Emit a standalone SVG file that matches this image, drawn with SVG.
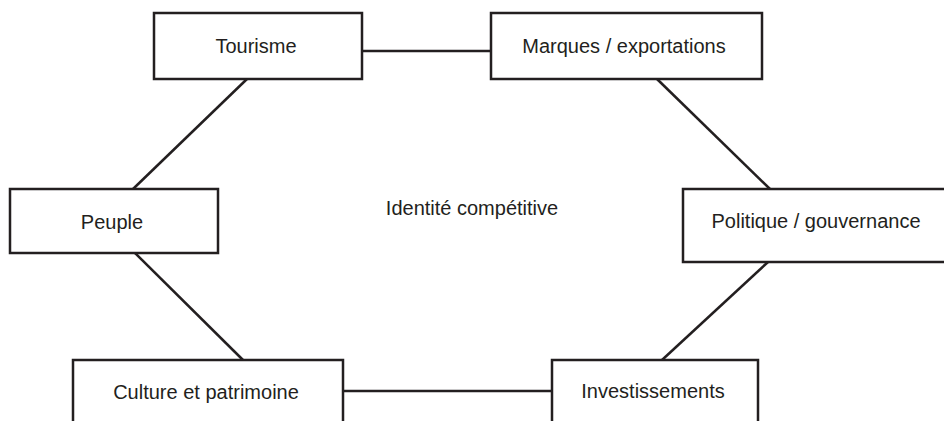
<svg xmlns="http://www.w3.org/2000/svg" width="944" height="421" viewBox="0 0 944 421">
<style>
.box{fill:#fff;stroke:#231f20;stroke-width:2.5}
.lbl{font-family:"Liberation Sans",Arial,sans-serif;font-size:20px;fill:#231f20;text-anchor:middle}
.con line{stroke:#231f20;stroke-width:2.5}
</style>
<rect width="944" height="421" fill="#fff"/>
<g id="connectors" class="con">
<line x1="362" y1="51" x2="491" y2="51"/>
<line x1="247" y1="79" x2="133" y2="189"/>
<line x1="657" y1="79" x2="770" y2="189"/>
<line x1="135" y1="253" x2="243" y2="360"/>
<line x1="768" y1="262" x2="662" y2="360"/>
<line x1="343" y1="391" x2="552" y2="391"/>
</g>
<g id="tourisme"><rect class="box" x="154" y="13" width="208" height="66"/><text class="lbl" x="256" y="53">Tourisme</text></g>
<g id="marques"><rect class="box" x="491" y="13" width="271" height="66"/><text class="lbl" x="624" y="53">Marques / exportations</text></g>
<g id="peuple"><rect class="box" x="10" y="189" width="208" height="64"/><text class="lbl" x="112" y="229">Peuple</text></g>
<g id="politique"><rect class="box" x="683" y="189" width="270" height="73"/><text class="lbl" x="816" y="228">Politique / gouvernance</text></g>
<g id="culture"><rect class="box" x="73" y="360" width="270" height="80"/><text class="lbl" x="206" y="399">Culture et patrimoine</text></g>
<g id="investissements"><rect class="box" x="552" y="360" width="206" height="80"/><text class="lbl" x="653" y="398">Investissements</text></g>
<g id="centre"><text class="lbl" x="472" y="215">Identité compétitive</text></g>
</svg>
